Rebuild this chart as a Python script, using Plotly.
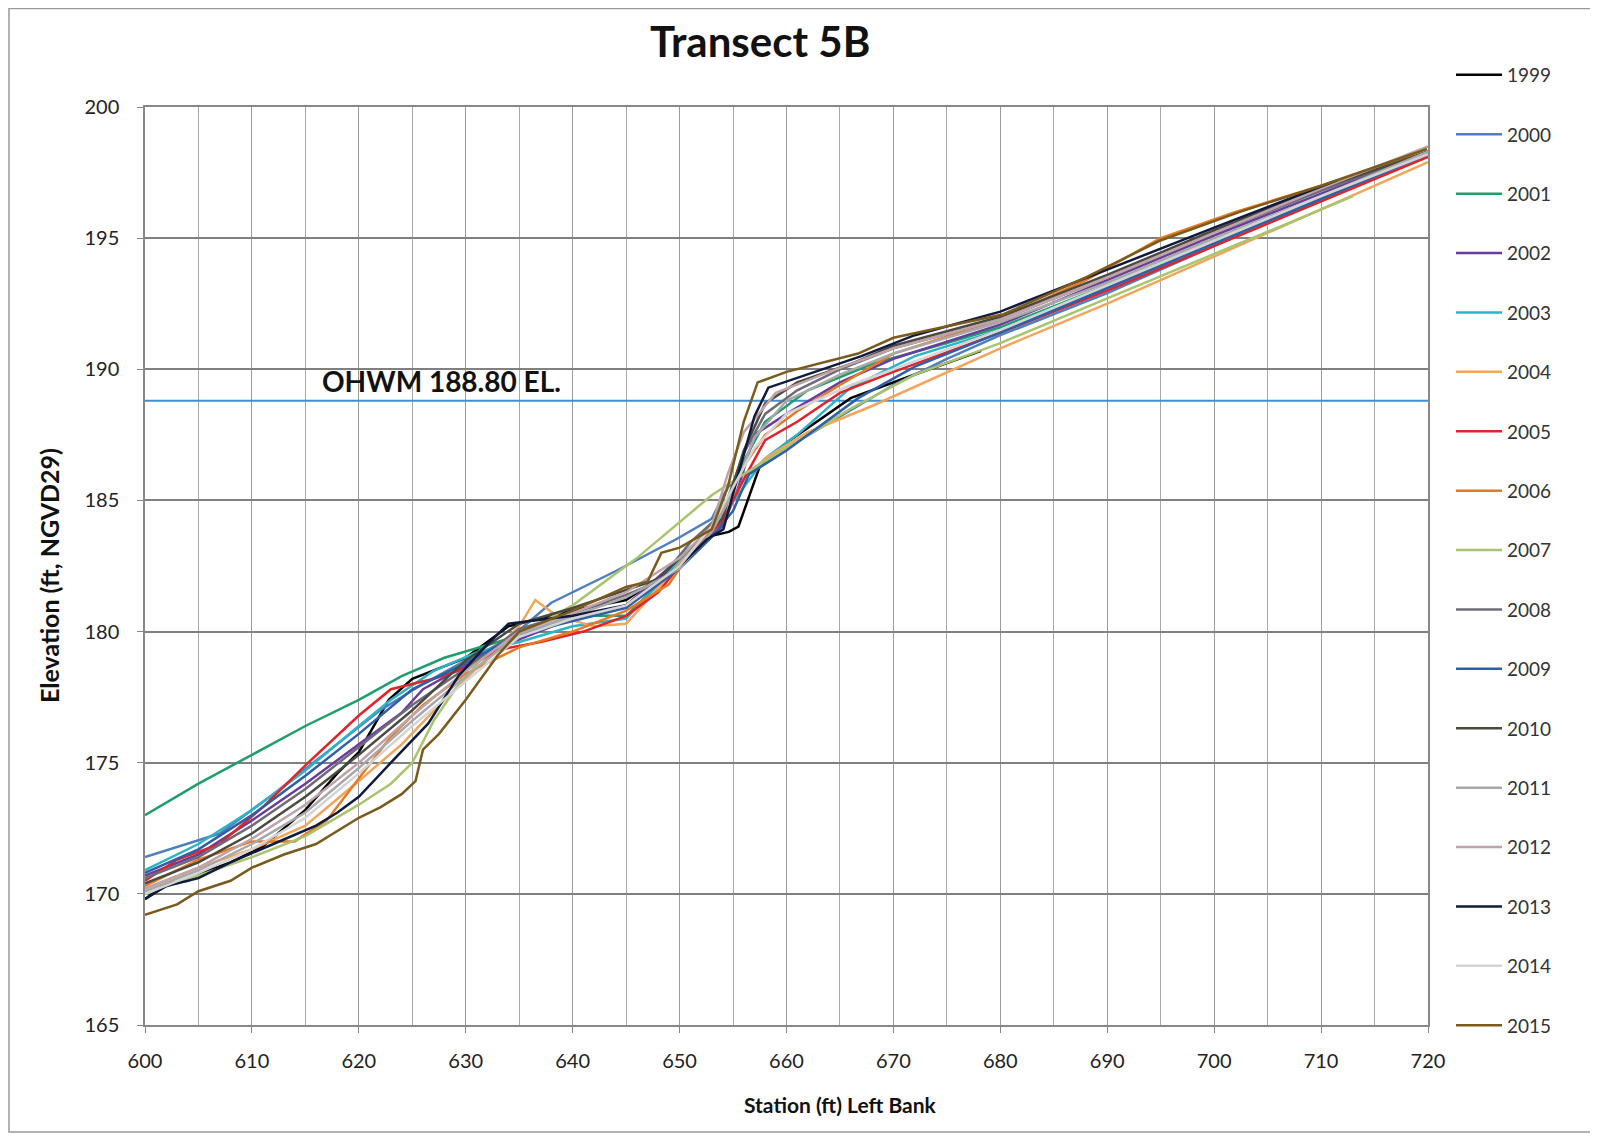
import plotly.graph_objects as go

# station (ft) / elevation (ft), one pair of lists per survey year
x1999 = [600, 602, 604, 606, 608, 611, 615, 618, 620, 622.8, 625, 630, 634, 640, 645, 650, 652.5, 654.6, 655.5, 657.5, 660, 666, 672, 678.2]
y1999 = [169.8, 170.4, 170.5, 170.9, 171.2, 171.8, 173.2, 174.6, 175.4, 177.4, 178.2, 179.0, 180.2, 180.8, 181.2, 182.6, 183.6, 183.8, 184.0, 186.3, 187.2, 188.9, 189.8, 190.7]

x2000 = [600, 607, 612, 617, 622, 626, 630, 634, 638, 644, 649.6, 653, 654.5, 656, 660, 665, 670, 675, 680, 690, 700, 710, 720]
y2000 = [171.4, 172.3, 173.8, 175.4, 177.0, 178.0, 178.9, 179.7, 181.1, 182.3, 183.5, 184.3, 185.5, 186.0, 187.0, 188.2, 189.4, 190.4, 191.3, 192.9, 194.7, 196.5, 198.2]

x2001 = [600, 605, 610, 615, 620, 624, 628, 633, 636, 640, 645, 648, 652, 654, 656, 658, 662, 668, 675, 680, 690, 700, 710, 720]
y2001 = [173.0, 174.2, 175.3, 176.4, 177.4, 178.3, 179.0, 179.6, 180.0, 180.6, 180.6, 181.8, 183.6, 184.5, 186.5, 188.0, 189.2, 190.2, 191.0, 191.6, 193.2, 194.9, 196.6, 198.2]

x2002 = [600, 605, 610, 615, 620, 624, 626, 630, 635, 640, 645, 650, 654, 655.5, 657, 660, 665, 670, 680, 690, 700, 710, 720]
y2002 = [170.7, 171.5, 172.8, 174.2, 175.7, 176.9, 177.8, 178.7, 179.7, 180.5, 181.0, 182.8, 184.0, 185.5, 187.5, 188.3, 189.5, 190.4, 191.7, 193.4, 195.1, 196.7, 198.3]

x2003 = [600, 605, 610, 615, 620, 623, 627, 631, 635, 640, 645, 648, 652, 654, 656, 658, 661, 666, 672, 680, 690, 703.6, 712, 720]
y2003 = [170.9, 171.9, 173.2, 174.7, 176.4, 177.4, 178.5, 179.2, 179.6, 180.2, 180.5, 181.8, 183.6, 184.4, 185.5, 186.6, 187.5, 189.3, 190.5, 191.5, 193.1, 195.4, 196.8, 198.2]

x2004 = [600, 605, 610, 615, 620, 624, 628, 632, 635, 636.5, 638.5, 642, 645, 647, 650, 654, 656, 658, 662, 668, 675, 680, 690, 700, 710, 720]
y2004 = [170.2, 171.0, 171.7, 172.6, 174.3, 175.7, 177.4, 179.0, 180.2, 181.2, 180.6, 180.2, 180.3, 181.2, 182.6, 184.3, 185.8, 186.6, 187.6, 188.6, 189.9, 190.8, 192.5, 194.3, 196.1, 197.9]

x2005 = [600, 603, 607, 611, 615, 620, 623, 627, 630, 633, 637, 641, 645, 648, 651, 654, 656, 658, 661, 665, 670, 680, 690, 700, 710, 720]
y2005 = [170.5, 171.3, 171.9, 173.3, 174.9, 176.8, 177.8, 178.2, 178.6, 179.3, 179.6, 180.0, 180.6, 181.5, 183.0, 184.2, 185.8, 187.3, 188.0, 189.1, 189.9, 191.4, 193.0, 194.7, 196.4, 198.1]

x2006 = [600, 605, 610, 614, 617, 620, 623, 626, 630, 635, 640, 645, 649, 652, 654, 656, 658, 661, 665, 670, 680, 688, 695, 702, 710, 720]
y2006 = [170.3, 171.3, 172.0, 172.0, 172.8, 174.4, 176.0, 177.2, 178.4, 179.4, 180.0, 180.8, 181.8, 183.6, 184.6, 186.3, 187.5, 188.4, 189.4, 190.6, 191.9, 193.4, 195.0, 196.0, 197.0, 198.3]

x2007 = [600, 605, 610, 615, 620, 623, 625, 627, 629, 632, 640, 646, 653, 656, 660, 666, 672, 680, 690, 700, 713]
y2007 = [170.0, 170.7, 171.4, 172.2, 173.4, 174.2, 175.0, 176.6, 177.8, 179.2, 181.0, 182.8, 185.2, 186.0, 187.0, 188.5, 189.8, 191.0, 192.7, 194.4, 196.6]

x2008 = [600, 605, 610, 615, 620, 625, 630, 635, 640, 645, 648, 651, 654, 656, 658, 661, 665, 670, 680, 690, 700, 710, 720]
y2008 = [170.6, 171.4, 172.6, 174.0, 175.6, 177.2, 178.6, 180.1, 180.7, 181.4, 181.9, 183.4, 184.5, 186.8, 188.3, 189.2, 190.0, 190.8, 191.9, 193.5, 195.2, 196.8, 198.3]

x2009 = [600, 605, 610, 615, 620, 625, 630, 635, 640, 645, 650, 653, 655, 656.5, 660, 666.7, 672, 680, 690, 700, 710, 720]
y2009 = [170.8, 171.7, 173.0, 174.5, 176.1, 177.8, 178.8, 179.9, 180.4, 180.9, 182.4, 183.6, 184.6, 186.0, 186.9, 188.9, 190.1, 191.4, 193.1, 194.8, 196.5, 198.2]

x2010 = [600, 605, 610, 615, 620, 625, 630, 635, 640, 645, 648, 651, 654, 656, 658, 661, 666, 670, 680, 690, 700, 710, 720]
y2010 = [170.4, 171.2, 172.3, 173.7, 175.3, 177.0, 178.9, 180.3, 180.9, 181.6, 182.0, 183.2, 184.3, 186.9, 188.7, 189.5, 190.2, 190.9, 192.0, 193.6, 195.3, 196.9, 198.3]

x2011 = [600, 605, 610, 615, 620, 625, 630, 635, 640, 645, 650, 653, 655, 657, 660, 665, 670, 680, 690, 700, 710, 720]
y2011 = [170.1, 170.9, 171.9, 173.1, 174.8, 176.6, 178.3, 179.9, 180.6, 181.3, 182.4, 183.8, 185.3, 187.4, 188.8, 189.8, 190.6, 191.8, 193.3, 195.0, 196.6, 198.3]

x2012 = [600, 605, 610, 615, 620, 625, 630, 635, 640, 645, 650, 653, 654.5, 656, 659, 664, 670, 680, 690, 700, 710, 720]
y2012 = [170.2, 171.0, 172.1, 173.4, 175.0, 176.8, 178.5, 180.0, 180.7, 181.5, 182.8, 184.0, 186.0, 187.6, 189.1, 189.9, 190.8, 191.9, 193.5, 195.2, 196.9, 198.5]

x2013 = [600, 602, 605, 608, 612, 616, 618, 620, 623, 626.5, 629.3, 632, 634, 640, 645, 650, 652.5, 654.1, 655.5, 657, 658.3, 662, 667, 672, 680, 690, 700, 711.5]
y2013 = [169.8, 170.3, 170.6, 171.2, 171.9, 172.6, 173.1, 173.7, 175.0, 176.5, 178.3, 179.5, 180.3, 180.6, 181.0, 182.5, 183.5, 183.9, 186.0, 188.2, 189.3, 189.8, 190.5, 191.3, 192.2, 193.8, 195.4, 197.2]

x2014 = [600, 605, 610, 615, 620, 625, 630, 635, 640, 645, 650, 653, 655, 657, 660, 666, 672, 680, 690, 700, 710, 720]
y2014 = [170.0, 170.8, 171.7, 172.9, 174.6, 176.4, 178.1, 179.8, 180.5, 181.0, 182.5, 184.0, 185.5, 187.0, 188.3, 189.4, 190.3, 191.5, 193.2, 194.9, 196.6, 198.2]

x2015 = [600, 603, 605, 608, 610, 613, 616, 618, 620, 622, 624, 625.3, 626, 627.5, 630, 633, 635, 640, 645, 647, 648.3, 650, 653, 654.5, 656, 657.3, 660, 666.7, 670, 680.3, 688, 694.9, 702.4, 710, 719.9]
y2015 = [169.2, 169.6, 170.1, 170.5, 171.0, 171.5, 171.9, 172.4, 172.9, 173.3, 173.8, 174.3, 175.5, 176.1, 177.4, 179.1, 180.0, 180.8, 181.7, 181.9, 183.0, 183.2, 183.9, 185.5, 188.0, 189.5, 189.9, 190.6, 191.2, 192.1, 193.5, 194.9, 196.0, 197.0, 198.4]

ohwm_x = [600, 720]
ohwm_y = [188.8, 188.8]

years = ['1999', '2000', '2001', '2002', '2003', '2004', '2005', '2006', '2007',
         '2008', '2009', '2010', '2011', '2012', '2013', '2014', '2015']
xs = [x1999, x2000, x2001, x2002, x2003, x2004, x2005, x2006, x2007,
      x2008, x2009, x2010, x2011, x2012, x2013, x2014, x2015]
ys = [y1999, y2000, y2001, y2002, y2003, y2004, y2005, y2006, y2007,
      y2008, y2009, y2010, y2011, y2012, y2013, y2014, y2015]
colors = ['#000000', '#4f7fbd', '#1f9e6c', '#6a3d9a', '#2db3c6', '#f4a55c',
          '#e2232a', '#e67a22', '#a9c46e', '#6e6b78', '#2f5fa5', '#4a4a40',
          '#a8a8a8', '#bfa3aa', '#0f1a3e', '#d4d4d4', '#7b5a1e']

# plot area in figure pixels
L, R, T, B = 137, 1420, 99, 1017
W, H = R - L, B - T


def px(x):
    return (x - L) / W


def py(y):
    return 1 - (y - T) / H


fig = go.Figure()

fig.add_trace(go.Scatter(x=ohwm_x, y=ohwm_y, mode='lines', showlegend=False,
                         line=dict(color='#3f8fd2', width=2), hoverinfo='skip'))

for yr, x, y, c in zip(years, xs, ys, colors):
    fig.add_trace(go.Scatter(x=x, y=y, mode='lines', name=yr, legendgroup=yr,
                             line=dict(color=c, width=2.5)))

fig.add_annotation(x=616.4, y=189.55, xref='x', yref='y', text='<b>OHWM 188.80 EL.</b>',
                   showarrow=False, xanchor='left', yanchor='middle',
                   font=dict(family='Lato', size=28, color='#111111'))

fig.add_annotation(x=px(752), y=py(33), xref='paper', yref='paper',
                   text='<b>Transect 5B</b>', showarrow=False, xanchor='center', yanchor='middle',
                   font=dict(family='Lato', size=42, color='#111111'))

fig.add_annotation(x=px(832), y=py(1096), xref='paper', yref='paper',
                   text='<b>Station (ft) Left Bank</b>', showarrow=False,
                   xanchor='center', yanchor='middle',
                   font=dict(family='Lato', size=21, color='#111111'))

fig.add_annotation(x=px(41), y=py(568), xref='paper', yref='paper', textangle=-90,
                   text='<b>Elevation (ft, NGVD29)</b>', showarrow=False,
                   xanchor='center', yanchor='middle',
                   font=dict(family='Lato', size=25, color='#111111'))

# outer frame of the chart image
fig.add_shape(type='rect', xref='paper', yref='paper',
              x0=px(1), x1=px(1588), y0=py(1124), y1=py(0.5),
              line=dict(color='#9a9a9a', width=1.5), layer='below')

fig.update_layout(
    width=1598, height=1141,
    margin=dict(l=L, r=1598 - R, t=T, b=1141 - B),
    paper_bgcolor='white', plot_bgcolor='white',
    font=dict(family='Lato', color='#222222'),
    showlegend=True,
    legend=dict(x=px(1443), xanchor='left', y=py(48), yanchor='top', itemwidth=46,
                tracegroupgap=31.7, maxheight=1141, font=dict(size=19, color='#333333'),
                bgcolor='rgba(0,0,0,0)'),
    xaxis=dict(range=[600, 720], dtick=10, tick0=600,
               showgrid=True, gridcolor='#9a9a9a', gridwidth=1,
               minor=dict(dtick=5, showgrid=True, gridcolor='#a8a8a8', gridwidth=1),
               showline=True, linecolor='#888888', linewidth=1.5, mirror=True,
               ticks='outside', ticklen=6, tickcolor='#888888', ticklabelstandoff=11,
               tickfont=dict(size=20, color='#222222'), zeroline=False),
    yaxis=dict(range=[165, 200], dtick=5, tick0=165,
               showgrid=True, gridcolor='#808080', gridwidth=1.5,
               showline=True, linecolor='#888888', linewidth=1.5, mirror=True,
               ticks='outside', ticklen=6, tickcolor='#888888', ticklabelstandoff=14,
               tickfont=dict(size=20, color='#222222'), zeroline=False),
)

fig.write_html("out.html")
